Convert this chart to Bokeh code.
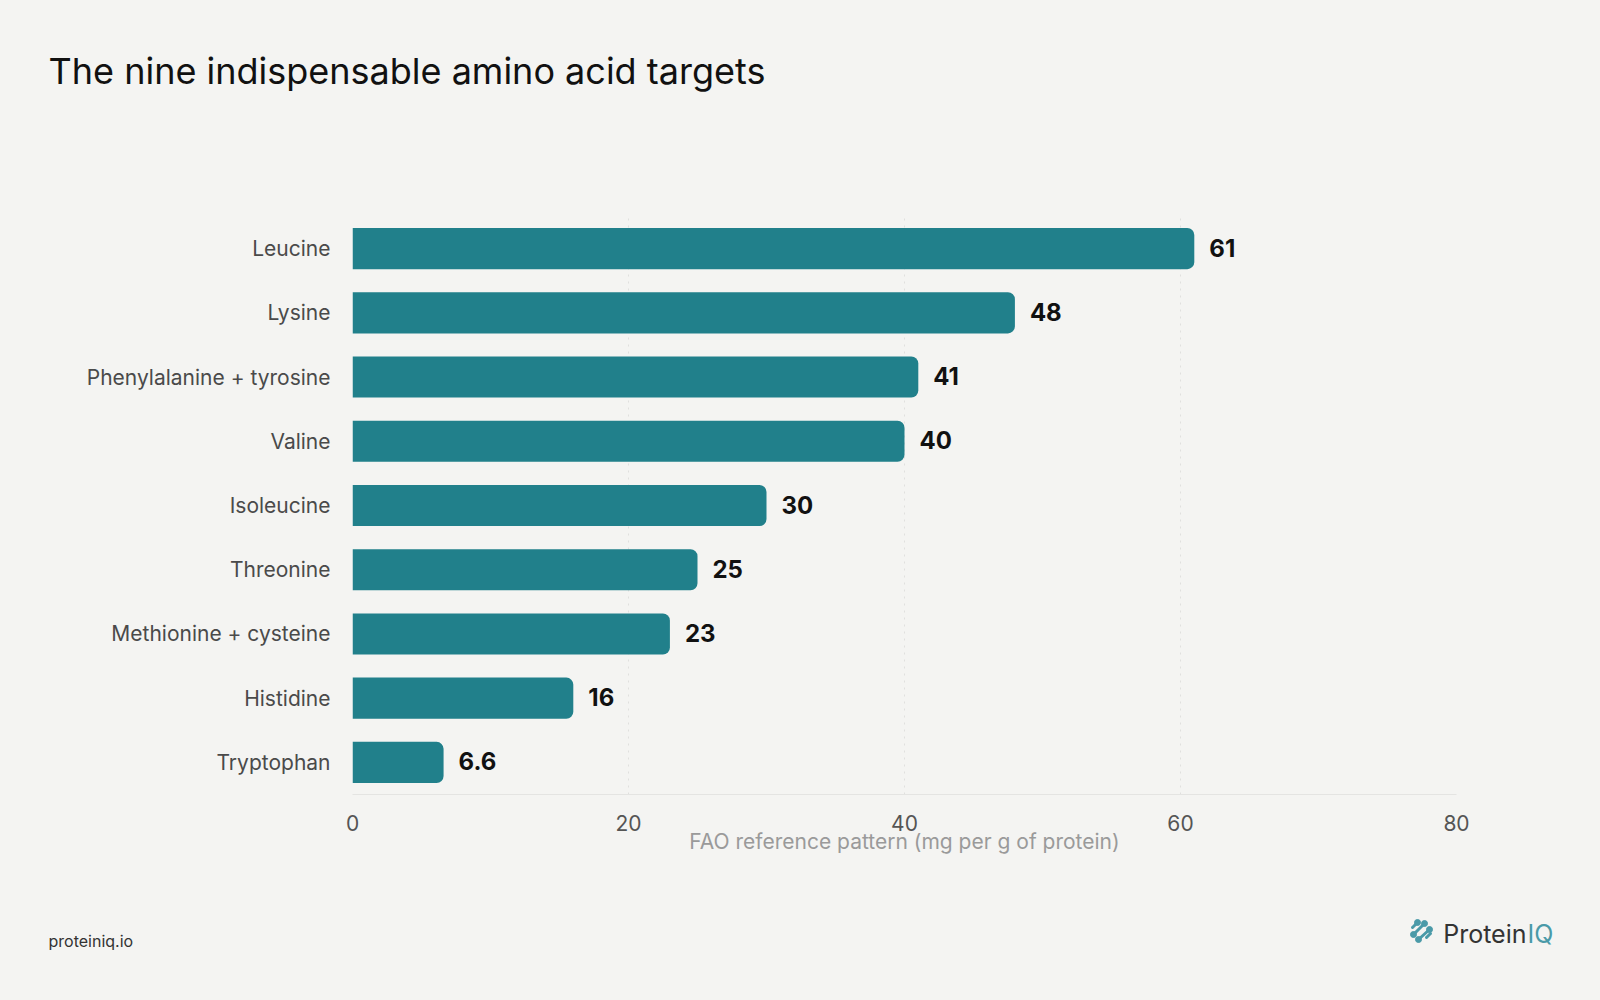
from bokeh.plotting import figure
from bokeh.layouts import column
from bokeh.models import ColumnDataSource, FactorRange, Range1d, FixedTicker, Label, LabelSet
from bokeh.embed import file_html
from bokeh.resources import INLINE
from bokeh.core.properties import value

categories = ["Leucine", "Lysine", "Phenylalanine + tyrosine", "Valine", "Isoleucine",
              "Threonine", "Methionine + cysteine", "Histidine", "Tryptophan"]
values = [61, 48, 41, 40, 30, 25, 23, 16, 6.6]
value_labels = ["61", "48", "41", "40", "30", "25", "23", "16", "6.6"]
x_ticks = [0, 20, 40, 60, 80]

TITLE = "The nine indispensable amino acid targets"
X_LABEL = "FAO reference pattern (mg per g of protein)"
SITE = "proteiniq.io"

BG = "#F4F4F2"
BAR = "#21808B"
LOGO = "#4A9AA8"
FONT = "Inter"
W = 1600
TOP_H, MAIN_H, BOT_H = 140, 740, 120


def no_align(f):
    try:
        f.frame_align = False
    except Exception:
        pass


def strip(h):
    f = figure(width=W, height=h, output_backend="svg", toolbar_location=None,
               x_range=Range1d(0, W), y_range=Range1d(0, h),
               x_axis_type=None, y_axis_type=None, min_border=0)
    f.background_fill_color = BG
    f.border_fill_color = BG
    f.outline_line_color = None
    f.grid.visible = False
    no_align(f)
    return f


# ---- header strip with the title (strip data units = page pixels, y up)
top = strip(TOP_H)
top.add_layout(Label(x=48, y=TOP_H - 70, text=TITLE, text_font=FONT, text_font_size="36px",
                     text_color="#111111", text_baseline="middle"))

# ---- main chart
src = ColumnDataSource(dict(cat=categories, val=values, lab=value_labels))

p = figure(width=W, height=MAIN_H, output_backend="svg", toolbar_location=None,
           y_range=FactorRange(factors=list(reversed(categories)), range_padding=0),
           x_range=Range1d(0, 80),
           min_border_left=352, min_border_right=144,
           min_border_top=216 - TOP_H, min_border_bottom=TOP_H + MAIN_H - 794)
p.background_fill_color = BG
p.border_fill_color = BG
p.outline_line_color = None
no_align(p)

p.hbar(y="cat", right="val", left=0, height=0.64, source=src, fill_color=BAR, line_color=None,
       border_radius=(0, 7, 7, 0))

p.add_layout(LabelSet(x="val", y="cat", text="lab", source=src, x_offset=15, y_offset=1,
                      text_baseline="middle", text_font=value(FONT), text_font_size="24px",
                      text_font_style="bold", text_color="#111111"))

p.xaxis.ticker = FixedTicker(ticks=x_ticks)
p.xaxis.axis_label = X_LABEL
p.xaxis.axis_label_text_font = FONT
p.xaxis.axis_label_text_font_size = "21px"
p.xaxis.axis_label_text_font_style = "normal"
p.xaxis.axis_label_text_color = "#9A9A9A"
p.xaxis.axis_label_standoff = -5
p.xaxis.major_label_text_font = FONT
p.xaxis.major_label_text_font_size = "21px"
p.xaxis.major_label_text_color = "#555555"
p.xaxis.major_label_standoff = 20
p.xaxis.major_tick_out = 0
p.xaxis.major_tick_in = 0
p.xaxis.major_tick_line_color = None
p.xaxis.minor_tick_line_color = None
p.xaxis.axis_line_color = "#E4E4E2"

p.yaxis.major_label_text_font = FONT
p.yaxis.major_label_text_font_size = "21px"
p.yaxis.major_label_text_color = "#4A4A4A"
p.yaxis.major_label_standoff = 22
p.yaxis.major_tick_out = 0
p.yaxis.major_tick_in = 0
p.yaxis.major_tick_line_color = None
p.yaxis.minor_tick_line_color = None
p.yaxis.axis_line_color = None

p.xgrid.grid_line_color = "#E0E0DE"
p.xgrid.grid_line_dash = "2 5"
p.ygrid.grid_line_color = None

# ---- footer strip (data y = 1000 - page y)
bot = strip(BOT_H)
bot.add_layout(Label(x=48, y=1000 - 940, text=SITE, text_font=FONT, text_font_size="16px",
                     text_color="#333333", text_baseline="middle"))
bot.add_layout(Label(x=1526, y=1000 - 933, text="Protein", text_font=FONT, text_font_size="25px",
                     text_align="right", text_color="#333333", text_baseline="middle"))
bot.add_layout(Label(x=1527, y=1000 - 933, text="IQ", text_font=FONT, text_font_size="25px",
                     text_align="left", text_color=LOGO, text_baseline="middle"))
# logo mark (decoration): slanted strokes with round ends
logo_x0 = [1412, 1413, 1418, 1426]
logo_y0 = [927, 934, 939, 937]
logo_x1 = [1417, 1424, 1429, 1430]
logo_y1 = [922, 923, 929, 933]
bot.segment(x0=logo_x0, y0=[1000 - v for v in logo_y0], x1=logo_x1, y1=[1000 - v for v in logo_y1],
            line_color=LOGO, line_width=3, line_cap="round")
bot.scatter(x=logo_x1[:3], y=[1000 - v for v in logo_y1[:3]], size=6, color=LOGO)
bot.scatter(x=logo_x0[1:3], y=[1000 - v for v in logo_y0[1:3]], size=6, color=LOGO)

layout = column(top, p, bot, spacing=0)
html = file_html(layout, INLINE)
html = html.replace("<body>", '<body style="background:%s">' % BG)
open("out.html", "w").write(html)
